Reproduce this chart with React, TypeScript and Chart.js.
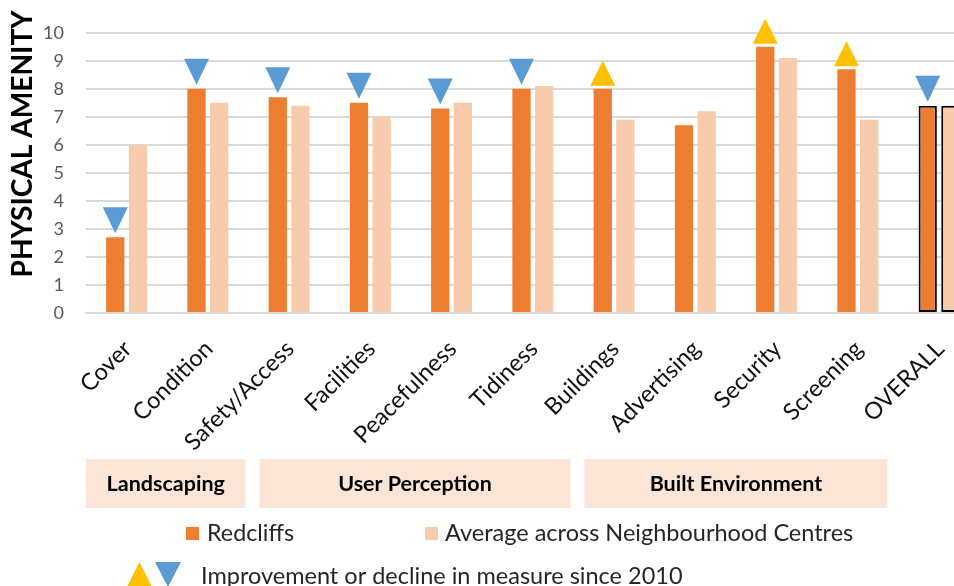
import React, { useEffect, useRef } from "react";
import { Chart, registerables } from "chart.js";

Chart.register(...registerables);

const categories = [
  "Cover",
  "Condition",
  "Safety/Access",
  "Facilities",
  "Peacefulness",
  "Tidiness",
  "Buildings",
  "Advertising",
  "Security",
  "Screening",
  "OVERALL",
];
const redcliffs = [2.7, 8.0, 7.7, 7.5, 7.3, 8.0, 8.0, 6.7, 9.5, 8.7, 7.4];
const average = [6.0, 7.5, 7.4, 7.0, 7.5, 8.1, 6.9, 7.2, 9.1, 6.9, 7.4];
const trend = ["down", "down", "down", "down", "down", "down", "up", null, "up", "up", "down"];
const groupLabels = ["Landscaping", "User Perception", "Built Environment"];
const groupStarts = [0, 2, 6];
const groupEnds = [2, 6, 10];
const seriesLabels = ["Redcliffs", "Average across Neighbourhood Centres"];
const trendLabel = "Improvement or decline in measure since 2010";
const yTitle = "PHYSICAL AMENITY";

const ORANGE = "#ED7D31";
const PEACH = "#F8CBAD";
const BLUE = "#5B9BD5";
const GOLD = "#FFC000";
const BOX = "#FBE5D6";
const FONT = "Lato, 'Open Sans', sans-serif";

function tri(ctx: CanvasRenderingContext2D, x: number, yBase: number, yTip: number, w: number, color: string) {
  ctx.beginPath();
  ctx.moveTo(x - w / 2, yBase);
  ctx.lineTo(x + w / 2, yBase);
  ctx.lineTo(x, yTip);
  ctx.closePath();
  ctx.fillStyle = color;
  ctx.fill();
}

const overlay = {
  id: "overlay",
  afterDatasetsDraw(chart: any) {
    const ctx: CanvasRenderingContext2D = chart.ctx;
    const meta = chart.getDatasetMeta(0);
    ctx.save();
    trend.forEach((t, i) => {
      if (!t) return;
      const bar = meta.data[i];
      const x = bar.x;
      const top = bar.y;
      if (t === "down") tri(ctx, x, top - 30, top - 4, 25, BLUE);
      else tri(ctx, x, top - 3, top - 28, 25, GOLD);
    });
    ctx.restore();
  },
  afterDraw(chart: any) {
    const ctx: CanvasRenderingContext2D = chart.ctx;
    const area = chart.chartArea;
    const catW = (area.right - area.left) / categories.length;
    ctx.save();

    // y axis title
    ctx.save();
    ctx.translate(22, 144);
    ctx.rotate(-Math.PI / 2);
    ctx.font = `bold 29px ${FONT}`;
    ctx.fillStyle = "#000";
    ctx.textAlign = "center";
    ctx.textBaseline = "middle";
    ctx.fillText(yTitle, 0, 1, 267);
    ctx.restore();

    // group boxes
    groupLabels.forEach((g, k) => {
      const a = groupStarts[k];
      const b = groupEnds[k];
      const left = area.left + a * catW + (a === 0 ? 0 : 11);
      const right = area.left + b * catW - (b === categories.length - 1 ? 11 : 3);
      ctx.fillStyle = BOX;
      ctx.fillRect(left, 459, right - left, 49);
      ctx.fillStyle = "#000";
      ctx.font = `bold 21.5px ${FONT}`;
      ctx.textAlign = "center";
      ctx.textBaseline = "middle";
      ctx.fillText(g, (left + right) / 2, 484);
    });

    // legend row
    ctx.font = `23.5px ${FONT}`;
    ctx.textAlign = "left";
    ctx.textBaseline = "middle";
    ctx.fillStyle = ORANGE;
    ctx.fillRect(186, 527, 13, 13);
    ctx.fillStyle = "#262626";
    ctx.fillText(seriesLabels[0], 207, 533, 87);
    ctx.fillStyle = PEACH;
    ctx.fillRect(425, 527, 13, 13);
    ctx.fillStyle = "#262626";
    ctx.fillText(seriesLabels[1], 445, 533, 415);

    // trend legend
    tri(ctx, 139.5, 587, 562, 25, GOLD);
    tri(ctx, 168, 562, 587, 26, BLUE);
    ctx.fillStyle = "#262626";
    ctx.fillText(trendLabel, 201, 576, 497);

    ctx.restore();
  },
};

export default function App() {
  const ref = useRef<HTMLCanvasElement>(null);
  useEffect(() => {
    document.body.style.margin = "0";
    const canvas = ref.current!;
    const chart = new Chart(canvas, {
      type: "bar",
      data: {
        labels: categories,
        datasets: [
          {
            label: seriesLabels[0],
            data: redcliffs,
            backgroundColor: ORANGE,
            borderColor: "#000",
            borderWidth: (c: any) => (c.dataIndex === categories.length - 1 ? 2 : 0),
            borderSkipped: false,
          },
          {
            label: seriesLabels[1],
            data: average,
            backgroundColor: PEACH,
            borderColor: "#000",
            borderWidth: (c: any) => (c.dataIndex === categories.length - 1 ? 2 : 0),
            borderSkipped: false,
          },
        ],
      },
      options: {
        responsive: false,
        animation: false,
        devicePixelRatio: 1,
        layout: { padding: { top: 22, left: 0, right: 0, bottom: 0 } },
        plugins: {
          legend: { display: false },
          tooltip: { enabled: false },
          title: { display: false },
        },
        datasets: {
          bar: { categoryPercentage: 0.558, barPercentage: 0.806 },
        },
        scales: {
          x: {
            grid: { display: false, drawTicks: false },
            border: { display: true, color: "#D9D9D9", width: 2 },
            ticks: {
              minRotation: 45,
              maxRotation: 45,
              padding: 22,
              labelOffset: 1,
              color: "#111",
              font: { family: FONT, size: 23.5 },
            },
            afterFit: (s: any) => {
              s.height = 586 - 313;
            },
          },
          y: {
            min: 0,
            max: 10,
            ticks: {
              stepSize: 1,
              padding: 22,
              color: "#595959",
              font: { family: FONT, size: 18 },
            },
            grid: { color: "#D9D9D9", lineWidth: 2, drawTicks: false },
            border: { display: false },
            afterFit: (s: any) => {
              s.width = 86;
            },
          },
        },
      },
      plugins: [overlay],
    } as any);
    return () => chart.destroy();
  }, []);
  return (
    <div
      style={{
        position: "fixed",
        left: 0,
        top: 0,
        width: 954,
        height: 586,
        overflow: "hidden",
        background: "#fff",
      }}
    >
      <canvas ref={ref} width={981} height={586} style={{ width: 981, height: 586, display: "block" }} />
    </div>
  );
}
